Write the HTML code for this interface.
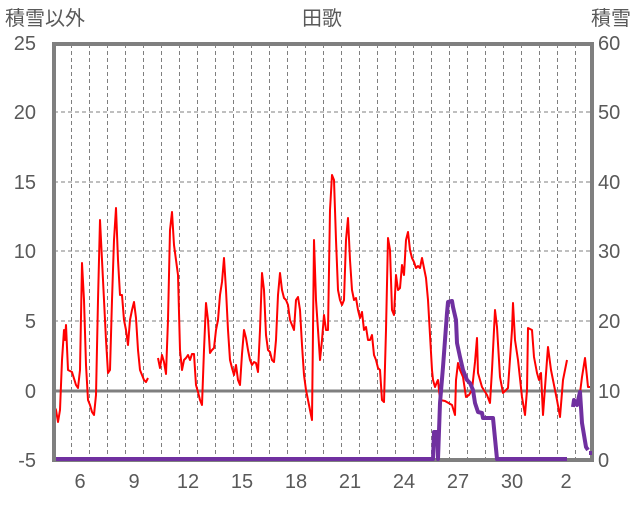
<!DOCTYPE html>
<html><head><meta charset="utf-8"><style>
body{margin:0;background:#fff;}
svg text{font-family:"Liberation Sans","Noto Sans CJK JP",sans-serif;fill:#595959;}
</style></head><body>
<svg width="636" height="501" viewBox="0 0 636 501" xmlns="http://www.w3.org/2000/svg">
<rect width="636" height="501" fill="#fff"/>
<g stroke="#7f7f7f" stroke-width="1" stroke-dasharray="4,3">
<line x1="54" y1="112" x2="592" y2="112"/><line x1="54" y1="182" x2="592" y2="182"/>
<line x1="54" y1="251" x2="592" y2="251"/><line x1="54" y1="321" x2="592" y2="321"/>
<line x1="71.5" y1="44" x2="71.5" y2="460"/><line x1="89.5" y1="44" x2="89.5" y2="460"/><line x1="107.5" y1="44" x2="107.5" y2="460"/><line x1="125.5" y1="44" x2="125.5" y2="460"/><line x1="143.5" y1="44" x2="143.5" y2="460"/><line x1="161.5" y1="44" x2="161.5" y2="460"/><line x1="179.5" y1="44" x2="179.5" y2="460"/><line x1="197.5" y1="44" x2="197.5" y2="460"/><line x1="215.5" y1="44" x2="215.5" y2="460"/><line x1="233.5" y1="44" x2="233.5" y2="460"/><line x1="251.5" y1="44" x2="251.5" y2="460"/><line x1="269.5" y1="44" x2="269.5" y2="460"/><line x1="287.5" y1="44" x2="287.5" y2="460"/><line x1="305.5" y1="44" x2="305.5" y2="460"/><line x1="323.5" y1="44" x2="323.5" y2="460"/><line x1="341.5" y1="44" x2="341.5" y2="460"/><line x1="359.5" y1="44" x2="359.5" y2="460"/><line x1="377.5" y1="44" x2="377.5" y2="460"/><line x1="395.5" y1="44" x2="395.5" y2="460"/><line x1="413.5" y1="44" x2="413.5" y2="460"/><line x1="431.5" y1="44" x2="431.5" y2="460"/><line x1="449.5" y1="44" x2="449.5" y2="460"/><line x1="467.5" y1="44" x2="467.5" y2="460"/><line x1="485.5" y1="44" x2="485.5" y2="460"/><line x1="503.5" y1="44" x2="503.5" y2="460"/><line x1="521.5" y1="44" x2="521.5" y2="460"/><line x1="539.5" y1="44" x2="539.5" y2="460"/><line x1="557.5" y1="44" x2="557.5" y2="460"/><line x1="575.5" y1="44" x2="575.5" y2="460"/>
</g>
<line x1="54" y1="391" x2="592" y2="391" stroke="#7f7f7f" stroke-width="3"/>
<g fill="none" stroke="#ff0000" stroke-width="2" stroke-linejoin="round">
<polyline points="53,404 56,410 58,422 60,410 62,360 64,330 65,340 66,325 68,370 72,372 76,385 78,388 80,370 82,263 84,300 86,365 88,400 90,405 92,412 94,415 96,395 98,300 100,220 102,260 104,300 106,340 108,373 110,370 112,300 114,240 116,208 118,260 120,295 122,295 124,320 126,330 128,345 130,320 132,310 134,302 136,318 138,350 140,370 142,375 144,380 146,382 148,378"/>
<polyline points="158,358 160,368 162,355 164,362 166,374 168,320 170,230 172,212 174,245 176,260 178,275 180,350 182,370 184,360 186,358 188,355 190,360 192,354 194,354 196,385 198,392 200,400 202,405 204,350 206,303 208,320 210,353 212,350 214,348 216,330 218,320 220,295 222,282 224,258 226,290 228,330 230,360 232,368 234,375 236,365 238,380 240,385 242,354 244,330 246,338 248,350 250,360 252,365 254,362 256,363 258,372 260,330 262,273 264,290 266,335 268,350 270,352 272,360 274,362 276,340 278,295 280,273 282,290 284,298 286,300 288,305 290,320 292,325 294,330 296,300 298,297 300,310 302,345 304,375 306,390 308,400 310,410 312,420 314,240 316,300 318,330 320,360 322,340 324,315 326,330 328,330 330,210 332,175 334,180 336,240 338,290 340,300 342,305 344,300 346,240 348,218 350,260 352,290 354,300 356,298 358,310 360,318 362,312 364,330 366,327 368,340 370,340 372,335 374,355 376,360 378,368 380,370 382,400 384,402 386,330 388,238 390,250 392,310 394,315 396,275 398,290 400,288 402,265 404,275 406,240 408,232 410,250 412,258 414,262 416,268 418,266 420,268 422,258 424,268 426,278 428,300 430,335 432,370 433,380 435,387 437,382 438,380 440,400 445,401 452,405 455,415 456,380 458,363 460,370 463,377 466,397 469,395 472,390 475,362 477,338 478,373 482,387 487,395 490,403 492,370 495,310 497,327 500,377 503,393 508,388 512,330 513,303 515,340 518,360 522,397 525,415 527,390 528,328 532,330 534,357 537,373 539,380 541,373 543,415 547,360 548,347 551,370 553,380 557,400 560,417 563,380 567,360"/>
<polyline points="578,403 580,393 582,377 585,358 587,377 588,387 591,387"/>
</g>
<rect x="54" y="44" width="538" height="416" fill="none" stroke="#7f7f7f" stroke-width="4"/>
<g fill="none" stroke="#7030a0" stroke-width="4" stroke-linejoin="round">
<polyline points="56,459 433,459 434,432 437,432 438,459 440,403 443,367 445,340 447,313 448,302 452,301 453,307 456,320 457,343 460,357 463,370 467,380 470,383 473,390 475,403 478,412 482,413 483,418 493,418 497,459 567,459"/>
<polyline points="573,407 574,400 577,405 580,392 582,423 586,447 588,450"/>
<line x1="589" y1="453" x2="592" y2="453"/>
</g>
<g font-size="20">
<text x="5" y="25">積雪以外</text>
<text x="322" y="25" text-anchor="middle">田歌</text>
<text x="631" y="25" text-anchor="end">積雪</text>
</g>
<g font-size="20" text-anchor="end">
<text x="36" y="50">25</text><text x="36" y="119">20</text><text x="36" y="189">15</text><text x="36" y="258">10</text><text x="36" y="328">5</text><text x="36" y="398">0</text><text x="36" y="467">-5</text>
</g>
<g font-size="20" text-anchor="start">
<text x="598" y="50">60</text><text x="598" y="119">50</text><text x="598" y="189">40</text><text x="598" y="258">30</text><text x="598" y="328">20</text><text x="598" y="398">10</text><text x="598" y="467">0</text>
</g>
<g font-size="20" text-anchor="middle">
<text x="80" y="488">6</text><text x="134" y="488">9</text><text x="188" y="488">12</text><text x="242" y="488">15</text><text x="296" y="488">18</text><text x="350" y="488">21</text><text x="404" y="488">24</text><text x="458" y="488">27</text><text x="512" y="488">30</text><text x="566" y="488">2</text>
</g>
</svg>
</body></html>
